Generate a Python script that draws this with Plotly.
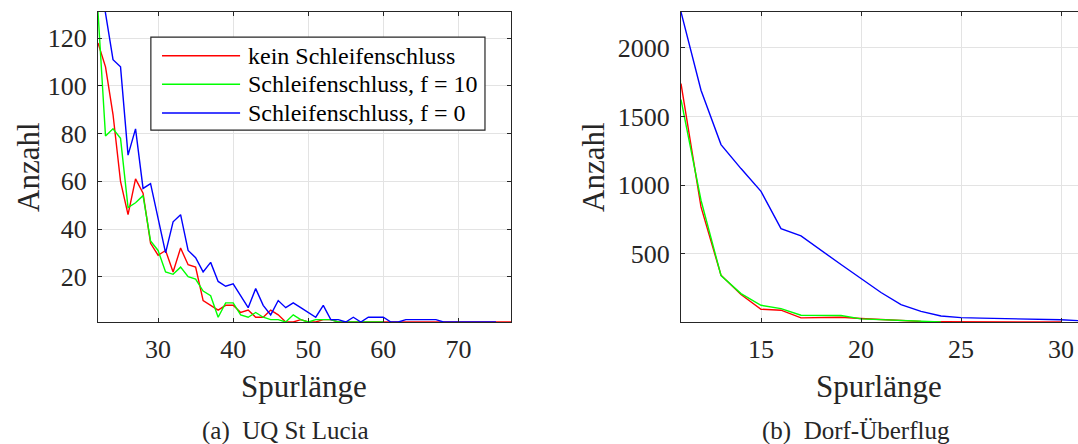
import plotly.graph_objects as go

# ---------- data: (a) UQ St Lucia ----------
x_a_red = list(range(22, 78))
y_a_red = [118, 108, 88, 60, 46, 61, 55, 34, 29, 31, 22, 32, 25, 24, 10, 8, 6, 8, 8, 5,
           6, 3, 3, 6, 4, 1, 1, 2, 1, 1, 2, 2, 1, 1, 1, 1, 1, 1, 1, 1,
           1, 1, 1, 1, 1, 1, 1, 1, 1, 1, 1, 1, 1, 1, 1, 1]
x_a_green = list(range(22, 61))
y_a_green = [131, 79, 82, 78, 49, 51, 54, 35, 31, 22, 21, 24, 20, 19, 14, 12, 3, 9, 9, 4,
             3, 5, 3, 2, 2, 1, 4, 2, 1, 2, 2, 2, 1, 1, 1, 1, 1, 1, 1]
x_a_blue = list(range(22, 76))
y_a_blue = [150, 130, 111, 108, 71, 82, 57, 59, 45, 30, 43, 46, 31, 28, 22, 26, 18, 16, 17, 12,
            7, 15, 8, 4, 10, 7, 9, 7, 5, 3, 8, 2, 2, 1, 3, 1, 3, 3, 3, 1,
            1, 2, 2, 2, 2, 2, 1, 1, 1, 1, 1, 1, 1, 1]

# ---------- data: (b) Dorf-Überflug ----------
x_b_red = list(range(11, 31))
y_b_red = [1740, 840, 342, 201, 94, 87, 31, 33, 36, 26, 19, 10, 5, 3, 2, 1, 1, 1, 1, 1]
x_b_green = list(range(11, 25))
y_b_green = [1623, 889, 340, 208, 123, 99, 50, 50, 48, 24, 19, 10, 5, 1]
x_b_blue = list(range(11, 32))
y_b_blue = [2262, 1691, 1295, 1120, 954, 682, 629, 523, 420, 318, 216, 128, 79, 45, 33, 29,
            27, 22, 19, 17, 10]

series_names = ["kein Schleifenschluss", "Schleifenschluss, f = 10", "Schleifenschluss, f = 0"]
colors = ["#ff0000", "#00ff00", "#0000ff"]

a_ticks = [30, 40, 50, 60, 70]
a_yticks = [20, 40, 60, 80, 100, 120]
b_ticks = [15, 20, 25, 30]
b_yticks = [500, 1000, 1500, 2000]

FONT = "Liberation Serif"
W, H = 1078, 444
TXT = "#262626"

fig = go.Figure()
for xs, ys, c, n in [(x_a_red, y_a_red, colors[0], series_names[0]),
                     (x_a_green, y_a_green, colors[1], series_names[1]),
                     (x_a_blue, y_a_blue, colors[2], series_names[2])]:
    fig.add_trace(go.Scatter(x=xs, y=ys, mode="lines", line=dict(color=c, width=1.4),
                             name=n, showlegend=False, xaxis="x", yaxis="y"))
for xs, ys, c, n in [(x_b_red, y_b_red, colors[0], series_names[0]),
                     (x_b_green, y_b_green, colors[1], series_names[1]),
                     (x_b_blue, y_b_blue, colors[2], series_names[2])]:
    fig.add_trace(go.Scatter(x=xs, y=ys, mode="lines", line=dict(color=c, width=1.4),
                             name=n, showlegend=False, xaxis="x2", yaxis="y2"))

ydom = [1 - 322 / H, 1 - 12 / H]
common = dict(showgrid=True, gridcolor="#e3e3e3", gridwidth=1, showline=True,
              linecolor=TXT, linewidth=1.2, ticks="inside", ticklen=4, tickcolor=TXT,
              tickfont=dict(family=FONT, size=26, color=TXT), zeroline=False)

fig.update_layout(
    width=W, height=H, margin=dict(l=0, r=0, t=0, b=0),
    font=dict(family=FONT, color=TXT),
    paper_bgcolor="white", plot_bgcolor="white", showlegend=False,
    xaxis=dict(domain=[98 / W, 511 / W], range=[22, 77], tickvals=a_ticks,
               mirror="ticks", ticklabelstandoff=4, anchor="y", **common),
    yaxis=dict(domain=ydom, range=[1, 131], tickvals=a_yticks,
               mirror="ticks", ticklabelstandoff=5, anchor="x", **common),
    xaxis2=dict(domain=[681 / W, 1.0], range=[11, 30.85], tickvals=b_ticks,
                mirror="ticks", ticklabelstandoff=4, anchor="y2", **common),
    yaxis2=dict(domain=ydom, range=[1, 2262], tickvals=b_yticks,
                mirror=False, ticklabelstandoff=5, anchor="x2", **common),
)

# legend (drawn in left panel)
fig.add_shape(type="rect", xref="x domain", yref="y domain", x0=0.128, x1=0.937,
              y0=0.619, y1=0.919, line=dict(color=TXT, width=1.2), fillcolor="white",
              layer="above")
row_y = [0.859, 0.767, 0.674]
for yy, c, n in zip(row_y, colors, series_names):
    fig.add_shape(type="line", xref="x domain", yref="y domain", x0=0.155, x1=0.344,
                  y0=yy, y1=yy, line=dict(color=c, width=1.4), layer="above")
    fig.add_annotation(xref="x domain", yref="y domain", x=0.359, y=yy, text=n,
                       showarrow=False, xanchor="left", yanchor="middle",
                       font=dict(family=FONT, size=24, color="black"))


def ann(x_px, y_px, text, font, angle=0):
    fig.add_annotation(xref="paper", yref="paper", x=x_px / W, y=1 - y_px / H, text=text,
                       textangle=angle, showarrow=False, font=font,
                       xanchor="center", yanchor="middle")


lab = dict(family=FONT, size=31, color=TXT)
ann(28, 167, "Anzahl", lab, -90)
ann(593, 167, "Anzahl", lab, -90)
ann(304, 386, "Spurlänge", lab)
ann(879, 386, "Spurlänge", lab)
cap = dict(family=FONT, size=25, color=TXT)
ann(285, 431, "(a)\u00a0 UQ St Lucia", cap)
ann(856, 431, "(b)\u00a0 Dorf-Überflug", cap)

fig.write_html("out.html")
